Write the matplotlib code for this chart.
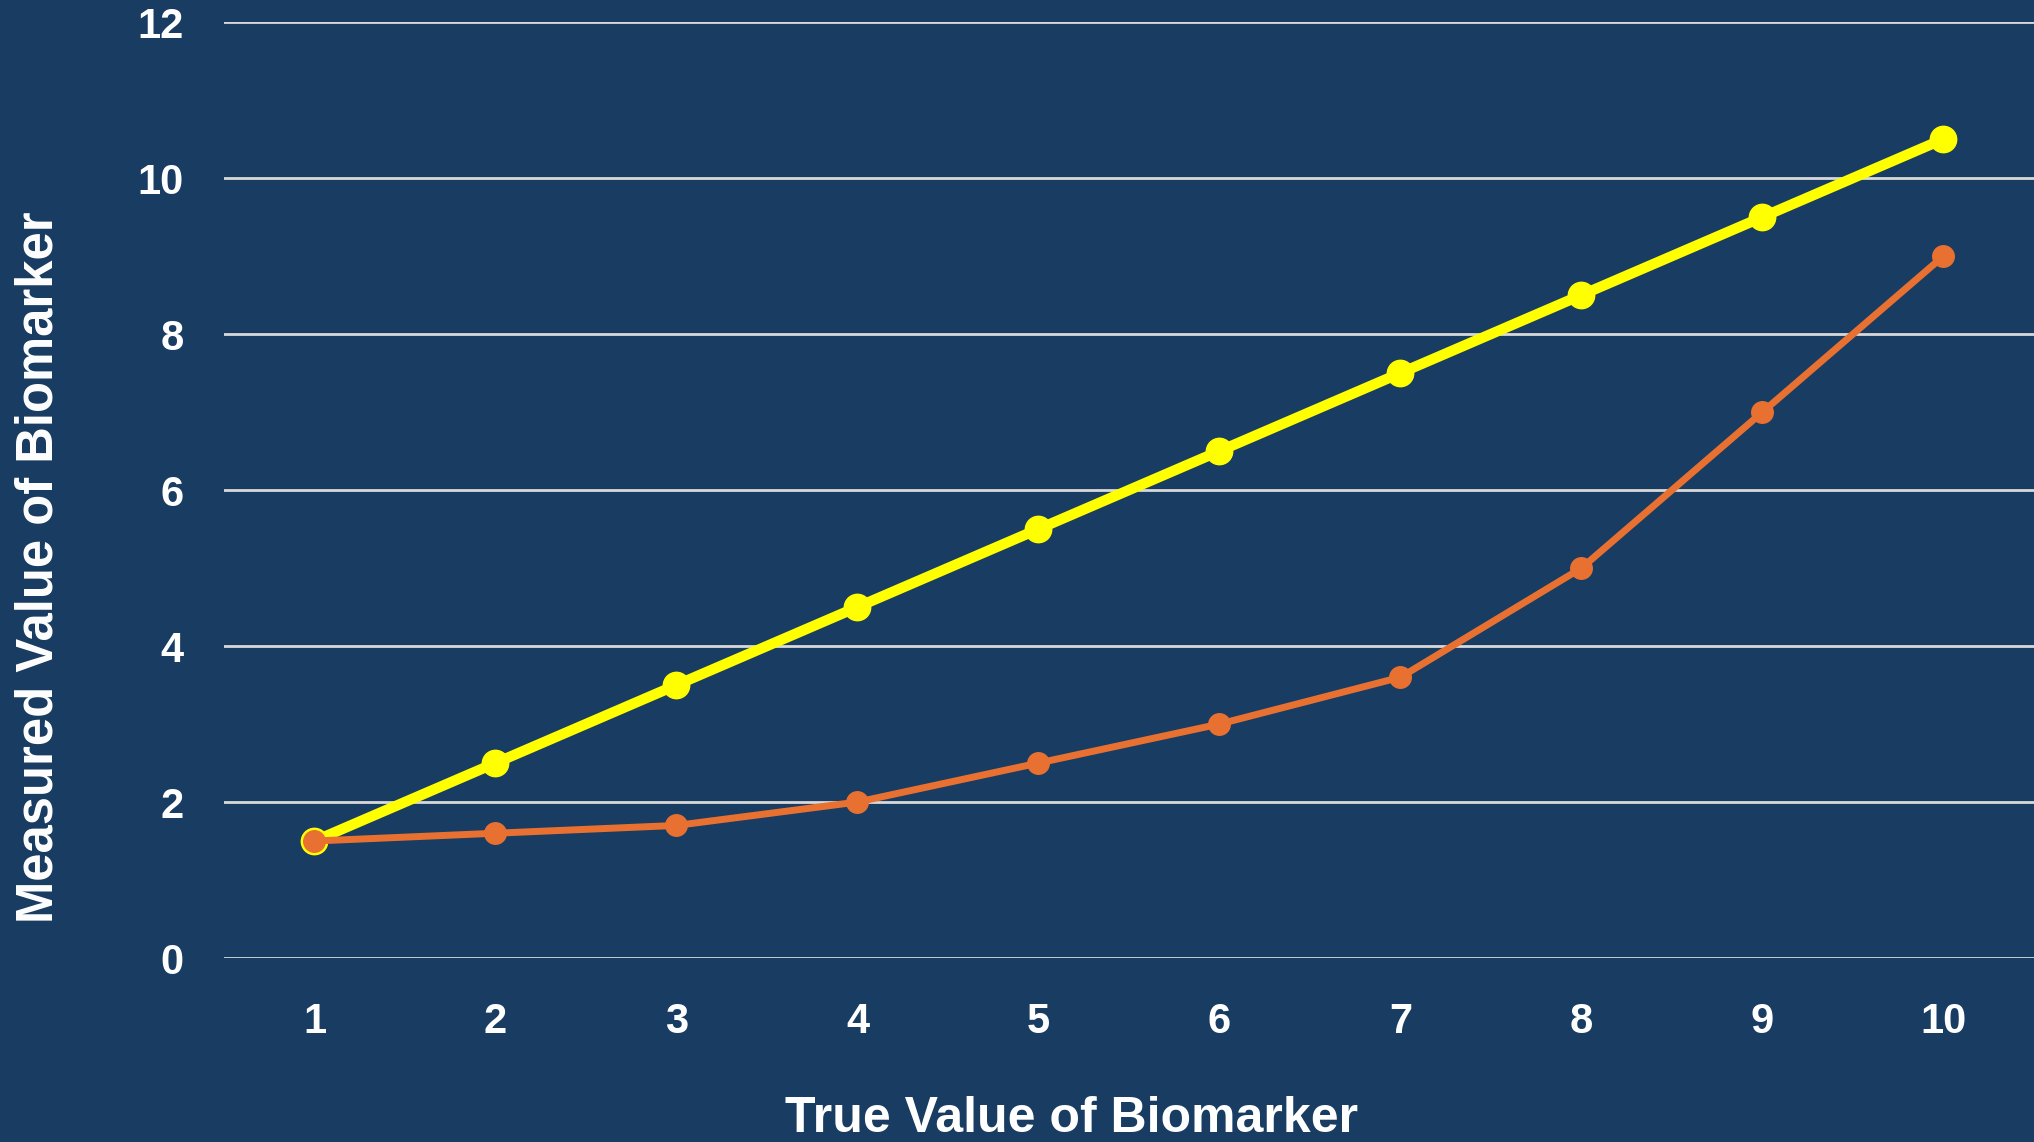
import matplotlib
matplotlib.use("Agg")
import matplotlib.pyplot as plt
import numpy as np

BG = "#183C62"
YELLOW = "#FFFF00"
ORANGE = "#E87131"
GRID = "#D9D9D9"

x_vals = [1, 2, 3, 4, 5, 6, 7, 8, 9, 10]
ideal = [1.5, 2.5, 3.5, 4.5, 5.5, 6.5, 7.5, 8.5, 9.5, 10.5]
measured = [1.5, 1.6, 1.7, 2.0, 2.5, 3.0, 3.6, 5.0, 7.0, 9.0]
y_ticks = [0, 2, 4, 6, 8, 10, 12]

plt.rcParams["font.family"] = ["Liberation Sans", "DejaVu Sans"]

fig = plt.figure(figsize=(20.34, 11.42), dpi=100, facecolor=BG)
ax = fig.add_axes([0.1101, 0.1611, 0.8899, 0.8196], facecolor=BG)

ax.plot(x_vals, ideal, color=YELLOW, linewidth=7.5, marker="o", markersize=19,
        solid_capstyle="round", zorder=3)
ax.plot(x_vals, measured, color=ORANGE, linewidth=5, marker="o", markersize=15.5,
        zorder=4)

ax.set_xlim(0.5, 10.5)
ax.set_ylim(0, 12)
ax.set_yticks(y_ticks)
ax.set_xticks(x_vals)
ax.grid(axis="y", color=GRID, linewidth=2, zorder=1)
ax.set_axisbelow(True)
for s in ax.spines.values():
    s.set_visible(False)
ax.tick_params(length=0, colors="white", labelsize=30)
ax.tick_params(axis="y", pad=29)
ax.tick_params(axis="x", pad=32)
for lab in ax.get_xticklabels() + ax.get_yticklabels():
    lab.set_fontweight("bold")

fig.text(0.527, 0.009, "True Value of Biomarker", color="white", fontsize=36,
         fontweight="bold", ha="center", va="baseline")
fig.text(0.019, 0.503, "Measured Value of Biomarker", color="white", fontsize=36.5,
         fontweight="bold", ha="center", va="center", rotation=90)

fig.savefig("out.png", dpi=100, facecolor=BG)
